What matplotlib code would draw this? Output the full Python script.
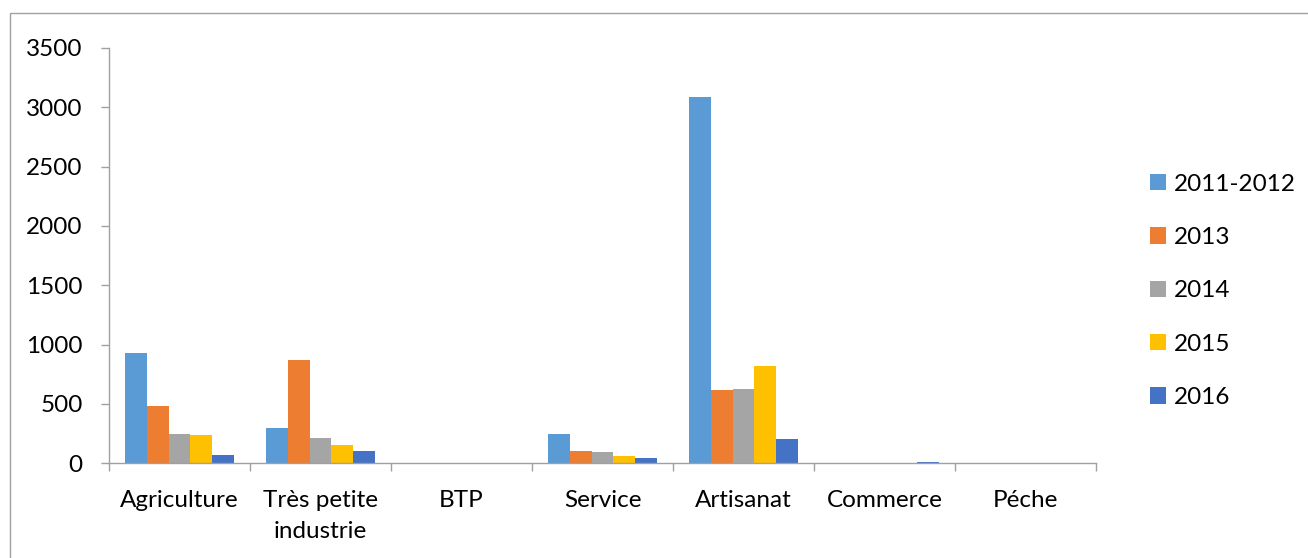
import matplotlib
matplotlib.use("Agg")
import matplotlib.pyplot as plt
from matplotlib.patches import Patch, Rectangle
import numpy as np

categories = ["Agriculture", "Très petite\nindustrie", "BTP", "Service", "Artisanat", "Commerce", "Péche"]
series_names = ["2011-2012", "2013", "2014", "2015", "2016"]
v_2011_2012 = [927, 300, 6, 244, 3084, 6, 0]
v_2013 = [483, 870, 0, 106, 615, 6, 0]
v_2014 = [247, 211, 0, 93, 624, 6, 0]
v_2015 = [238, 154, 6, 59, 822, 6, 0]
v_2016 = [67, 106, 6, 47, 207, 8, 0]
values = [v_2011_2012, v_2013, v_2014, v_2015, v_2016]
colors = ["#5B9BD5", "#ED7D31", "#A5A5A5", "#FFC000", "#4472C4"]
yticks = [0, 500, 1000, 1500, 2000, 2500, 3000, 3500]

plt.rcParams['font.family'] = ['Lato', 'DejaVu Sans']
W, H = 1308, 558
fig = plt.figure(figsize=(W/100, H/100), dpi=100)

# outer chart frame (left and top visible)
fig.patches.append(Rectangle((10/W, -0.1), 1.2, (558-13)/H + 0.1, transform=fig.transFigure,
                             fill=False, edgecolor="#A0A0A0", linewidth=1.0))

ax = fig.add_axes([109/W, (558-463.3)/H, (1096-109)/W, (463.3-48)/H])
x = np.arange(len(categories))
bw = 0.154
n = len(series_names)
for i, (name, vals, c) in enumerate(zip(series_names, values, colors)):
    ax.bar(x + (i - (n-1)/2) * bw, vals, width=bw, color=c, label=name,
           edgecolor="none", linewidth=0)

ax.set_xlim(-0.5, len(categories) - 0.5)
ax.set_ylim(0, 3500)
ax.set_yticks(yticks)
ax.set_yticklabels([str(t) for t in yticks], fontsize=17.5)
ax.set_xticks(x)
ax.set_xticklabels(categories, fontsize=17.5, linespacing=1.6)
ax.tick_params(axis='x', length=0, pad=19)
ax.set_xticks(np.arange(-0.5, len(categories)), minor=True)
ax.tick_params(axis='x', which='minor', length=6, color="#A0A0A0", width=1)
ax.tick_params(axis='y', length=6, color="#A0A0A0", width=1, pad=13)
for s in ["top", "right"]:
    ax.spines[s].set_visible(False)
for s in ["left", "bottom"]:
    ax.spines[s].set_color("#A0A0A0")
    ax.spines[s].set_linewidth(1.0)

handles = [Patch(facecolor=c, edgecolor="none") for c in colors]
fig.legend(handles, series_names, loc="upper left", bbox_to_anchor=(1140/W, 1 - 164/H),
           frameon=False, fontsize=17.5, handlelength=0.65, handleheight=0.65,
           handletextpad=0.35, labelspacing=1.33, borderaxespad=0)

fig.savefig("out.png", dpi=100)
